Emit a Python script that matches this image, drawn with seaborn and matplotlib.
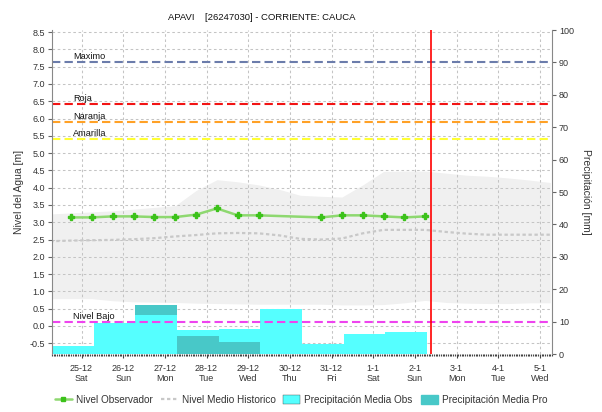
import numpy as np
import pandas as pd
import matplotlib
matplotlib.use("Agg")
import matplotlib.pyplot as plt
import matplotlib.dates as mdates
from matplotlib.lines import Line2D
from matplotlib.patches import Patch
import seaborn as sns

# ---------------- data ----------------
title = "APAVI    [26247030] - CORRIENTE: CAUCA"

obs_times = pd.to_datetime([
    "2021-12-24 18:00", "2021-12-25 06:00", "2021-12-25 18:00", "2021-12-26 06:00",
    "2021-12-26 18:00", "2021-12-27 06:00", "2021-12-27 18:00", "2021-12-28 06:00",
    "2021-12-28 18:00", "2021-12-29 06:00", "2021-12-29 18:00", "2021-12-30 06:00",
    "2021-12-30 18:00", "2021-12-31 06:00", "2021-12-31 18:00", "2022-01-01 06:00",
    "2022-01-01 18:00", "2022-01-02 06:00"])
obs_level = [3.14, 3.14, 3.17, 3.17, 3.15, 3.15, 3.22, 3.40, 3.20, 3.20,
             np.nan, np.nan, 3.14, 3.20, 3.20, 3.17, 3.14, 3.17]

hist_times = pd.date_range("2021-12-24 06:00", periods=25, freq="12h")
hist_mean = [2.45, 2.47, 2.48, 2.49, 2.51, 2.54, 2.59, 2.63, 2.68, 2.69, 2.68, 2.62, 2.52,
             2.50, 2.53, 2.68, 2.78, 2.78, 2.78, 2.72, 2.67, 2.64, 2.64, 2.64, 2.64]
hist_max = [3.24, 3.27, 3.30, 3.33, 3.38, 3.43, 3.48, 3.92, 4.23, 4.17, 4.08, 3.95, 3.78,
            3.75, 3.73, 4.08, 4.47, 4.48, 4.48, 4.42, 4.36, 4.33, 4.28, 4.22, 4.15]
hist_min = [0.79, 0.79, 0.79, 0.73, 0.70, 0.69, 0.68, 0.66, 0.65, 0.64, 0.63, 0.63, 0.63,
            0.63, 0.61, 0.61, 0.62, 0.67, 0.74, 0.68, 0.66, 0.65, 0.65, 0.67, 0.67]

precip_start = pd.date_range("2021-12-24 07:00", periods=9, freq="D")
precip_obs = [2.4, 9.6, 12.0, 7.3, 7.6, 13.8, 3.2, 6.1, 6.7]
precip_pro = [0.0, 0.0, 15.1, 5.5, 3.6, 0.0, 0.0, 0.0, 0.0]

thr_names = ["Maximo", "Roja", "Naranja", "Amarilla", "Nivel Bajo"]
thr_values = [7.63, 6.43, 5.90, 5.41, 0.11]
thr_colors = ["#6B7CAB", "#F21414", "#FFA126", "#FFFF33", "#EE44EE"]

now_time = pd.Timestamp("2022-01-02 09:30")

day_ticks = pd.date_range("2021-12-25", "2022-01-05", freq="D")
day_labels = ["25-12\nSat", "26-12\nSun", "27-12\nMon", "28-12\nTue", "29-12\nWed",
              "30-12\nThu", "31-12\nFri", "1-1\nSat", "2-1\nSun", "3-1\nMon",
              "4-1\nTue", "5-1\nWed"]

legend_labels = ["Nivel Observador", "Nivel Medio Historico",
                 "Precipitación Media Obs", "Precipitación Media Pro"]

# ---------------- style ----------------
sns.set_style("white")
plt.rcParams["font.family"] = ["Liberation Sans", "DejaVu Sans"]

C_OBS = "#55FFFF"
C_PRO = "#48C8C8"
C_GREEN_LINE = "#8ED870"
C_GREEN_MK = "#3CC21A"
C_MEAN = "#C8C8C8"
C_BAND = "#F0F0F0"
TXT = "#333333"

fig = plt.figure(figsize=(6.02, 4.12), dpi=100)
ax = fig.add_axes([52 / 602, 58 / 412, 500 / 602, 324 / 412])
ax2 = ax.twinx()

x0 = pd.Timestamp("2021-12-24 07:00")
x1 = pd.Timestamp("2022-01-05 07:00")
ax.set_xlim(x0, x1)
ax.set_ylim(-0.81, 8.56)
ax2.set_ylim(0, 100)

# historical band
ax.fill_between(hist_times, hist_min, hist_max, color=C_BAND, lw=0, zorder=0.3)

# grid
ax.set_axisbelow(True)
ax.grid(True, which="major", color="#C4C4C4", linestyle=(0, (2.5, 2.5)), linewidth=0.75)

# precipitation bars drawn with the right-axis scale
bars_obs = ax.bar(precip_start, precip_obs, width=1.0, align="edge", color=C_OBS,
                  lw=0, transform=ax2.transData, zorder=1.0)
bars_pro = ax.bar(precip_start, precip_pro, width=1.0, align="edge", color=C_PRO,
                  lw=0, transform=ax2.transData, zorder=1.0)
for po, pp in zip(bars_obs.patches, bars_pro.patches):
    if po.get_height() <= pp.get_height():
        po.set_zorder(1.2)
    else:
        pp.set_zorder(1.2)
ax.set_xlim(x0, x1)
ax.set_ylim(-0.81, 8.56)

# mean historic line
sns.lineplot(x=hist_times, y=hist_mean, ax=ax, color=C_MEAN, lw=1.6,
             linestyle=(0, (1.5, 1.2)), zorder=1.5, legend=False)

# observed level
sns.lineplot(x=obs_times, y=obs_level, ax=ax, color=C_GREEN_LINE, lw=1.8,
             zorder=3, legend=False)
ax.plot(obs_times, obs_level, ls="none", marker="P", ms=4, color=C_GREEN_MK,
        mec=C_GREEN_MK, zorder=3.1)

# thresholds
for name, val, col in zip(thr_names, thr_values, thr_colors):
    ax.axhline(val, color=col, lw=1.5, linestyle=(0, (4, 2)), zorder=2.5)
    ax.text(0.042, val + 0.03, name, transform=ax.get_yaxis_transform(),
            fontsize=6.6, color="#111111", va="bottom", ha="left", zorder=4)

ax.axvline(now_time, color="#FF0000", lw=1.2, zorder=3.5)

# axes formatting
ax.set_yticks(np.arange(-0.5, 8.51, 0.5))
ax.set_yticklabels([f"{v:.1f}" for v in np.arange(-0.5, 8.51, 0.5)])
ax2.set_yticks(np.arange(0, 101, 10))
ax.set_xticks(day_ticks)
ax.set_xticklabels(day_labels)
ax.xaxis.set_minor_locator(mdates.HourLocator(interval=1))

for sp in ["top", "bottom"]:
    ax.spines[sp].set_visible(False)
    ax2.spines[sp].set_visible(False)
ax.spines["left"].set_color("#888888")
ax2.spines["right"].set_color("#888888")
ax.spines["right"].set_visible(False)
ax2.spines["left"].set_visible(False)

ax.tick_params(axis="y", which="major", direction="out", length=3, width=0.8,
               color="#666666", labelsize=6.5, labelcolor=TXT, pad=2, left=True)
ax2.tick_params(axis="y", which="major", direction="out", length=3, width=0.8,
                color="#666666", labelsize=6.5, labelcolor=TXT, pad=2, right=True)
ax.tick_params(axis="x", which="major", direction="out", length=3, width=0.8,
               color="#444444", labelsize=6.5, labelcolor=TXT, pad=4, bottom=True)
ax.tick_params(axis="x", which="minor", direction="out", length=1.5, width=0.8,
               color="#444444", bottom=True)
ax.set_xlabel("")

ax.set_ylabel("Nivel del Agua [m]", fontsize=7.5, color=TXT, labelpad=4)
ax2.set_ylabel("Precipitación [mm]", fontsize=7.5, color=TXT, rotation=270,
               labelpad=12)

fig.text(262 / 602, 1 - 18 / 412, title, ha="center", va="center",
         fontsize=6.8, color="#111111")

handles = [
    Line2D([0], [0], color=C_GREEN_LINE, lw=1.8, marker="s", ms=3,
           mfc=C_GREEN_MK, mec=C_GREEN_MK),
    Line2D([0], [0], color=C_MEAN, lw=1.6, linestyle=(0, (1.5, 1.2))),
    Patch(facecolor=C_OBS, edgecolor="#444444", lw=0.3),
    Patch(facecolor=C_PRO, edgecolor=C_PRO),
]
fig.legend(handles, legend_labels, loc="center", bbox_to_anchor=(0.5, 12 / 412),
           ncol=4, frameon=False, fontsize=7.2, handlelength=1.7, handleheight=1.0,
           columnspacing=0.8, handletextpad=0.4, labelcolor=TXT)

fig.savefig("out.png", dpi=100)
